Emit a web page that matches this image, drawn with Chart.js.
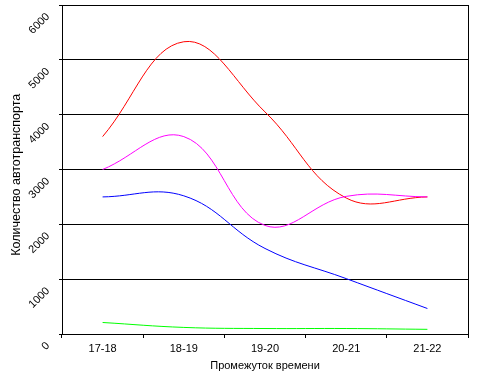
<!DOCTYPE html>
<html>
<head>
<meta charset="utf-8">
<script src="https://cdn.jsdelivr.net/npm/chart.js@4"></script>
<style>
html,body{margin:0;padding:0;background:#fff;}
canvas{display:block;}
</style>
</head>
<body>
<canvas id="c" width="486" height="385"></canvas>
<script>
const categories = ["17-18", "18-19", "19-20", "20-21", "21-22"];
const redSeries = [3600, 5330, 4050, 2480, 2500];
const magentaSeries = [3000, 3600, 1980, 2510, 2500];
const blueSeries = [2500, 2520, 1560, 1010, 465];
const greenSeries = [210, 120, 100, 100, 85];
const yTicks = [0, 1000, 2000, 3000, 4000, 5000, 6000];
const xTitle = "Промежуток времени";
const yTitle = "Количество автотранспорта";

const FONT = "'Liberation Sans', Arial, sans-serif";

const borderPlugin = {
  id: 'frame',
  afterDraw(chart) {
    const a = chart.chartArea, ctx = chart.ctx;
    ctx.save();
    ctx.strokeStyle = '#000';
    ctx.lineWidth = 1;
    ctx.beginPath();
    ctx.moveTo(Math.round(a.right) + 0.5, Math.round(a.top));
    ctx.lineTo(Math.round(a.right) + 0.5, Math.round(a.bottom) + 1);
    ctx.stroke();
    ctx.restore();
  }
};

function mk(data, color) {
  return {
    data: data,
    borderColor: color,
    backgroundColor: color,
    borderWidth: 1,
    pointRadius: 0,
    fill: false,
    tension: 0.4
  };
}

new Chart(document.getElementById('c'), {
  type: 'line',
  data: {
    labels: categories,
    datasets: [
      mk(greenSeries, '#00FF00'),
      mk(blueSeries, '#0000FF'),
      mk(magentaSeries, '#FF00FF'),
      mk(redSeries, '#FF0000')
    ]
  },
  options: {
    responsive: false,
    devicePixelRatio: 1,
    animation: false,
    layout: { autoPadding: false, padding: { left: 0, right: 18, top: 5, bottom: 0 } },
    plugins: { legend: { display: false }, tooltip: { enabled: false } },
    scales: {
      x: {
        offset: true,
        grid: { offset: true, drawOnChartArea: false, drawTicks: true, tickLength: 4, color: '#000' },
        border: { display: true, color: '#000', width: 1 },
        ticks: { color: '#000', font: { family: FONT, size: 11 }, padding: 4, maxRotation: 0, minRotation: 0 },
        title: { display: true, text: xTitle, color: '#000', font: { family: FONT, size: 11 }, padding: { top: 0, bottom: 12 } },
        afterFit(s) { s.height = 51; s.paddingLeft = 0; s.paddingRight = 0; }
      },
      y: {
        min: 0,
        max: 6000,
        afterBuildTicks(s) { s.ticks = yTicks.map(v => ({ value: v })); },
        grid: { color: '#000', tickLength: 3, drawTicks: true },
        border: { display: true, color: '#000', width: 1 },
        ticks: {
          color: '#000', font: { family: FONT, size: 11 }, minRotation: 45, maxRotation: 45, padding: 11, labelOffset: 10,
          callback: v => String(v)
        },
        title: { display: true, text: yTitle + "   ", color: '#000', font: { family: FONT, size: 12.5 }, padding: { top: 9, bottom: 0 } },
        afterFit(s) { s.width = 62; s.paddingTop = 0; s.paddingBottom = 0; }
      }
    }
  },
  plugins: [borderPlugin]
});
</script>
</body>
</html>
